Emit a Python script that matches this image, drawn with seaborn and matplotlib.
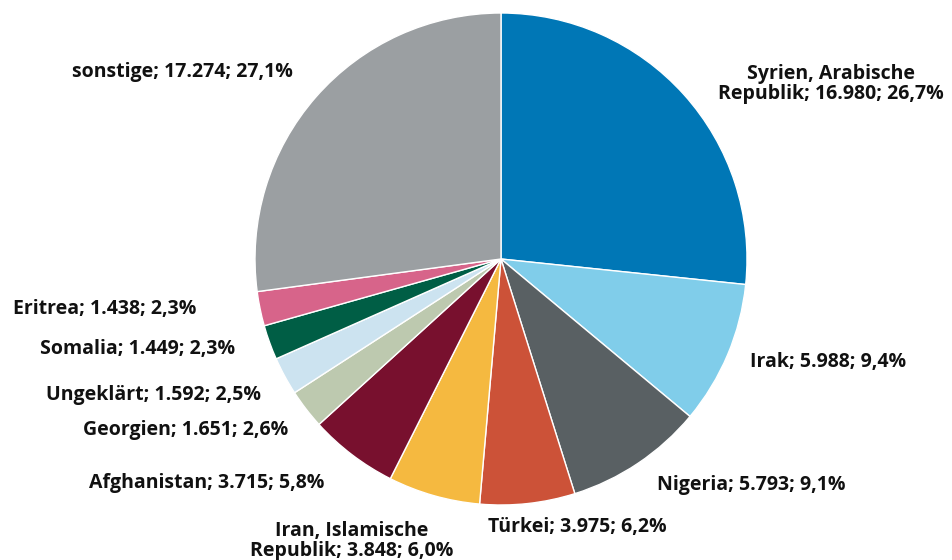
import matplotlib
matplotlib.use("Agg")
import matplotlib.pyplot as plt
import seaborn as sns

# data
names = ["Syrien, Arabische\nRepublik", "Irak", "Nigeria", "Türkei",
         "Iran, Islamische\nRepublik", "Afghanistan", "Georgien", "Ungeklärt",
         "Somalia", "Eritrea", "sonstige"]
counts = [16980, 5988, 5793, 3975, 3848, 3715, 1651, 1592, 1449, 1438, 17274]
count_text = ["16.980", "5.988", "5.793", "3.975", "3.848", "3.715",
              "1.651", "1.592", "1.449", "1.438", "17.274"]
pct_text = ["26,7", "9,4", "9,1", "6,2", "6,0", "5,8", "2,6", "2,5", "2,3", "2,3", "27,1"]

colors = ["#0077B6", "#80CDEA", "#596063", "#CC5238", "#F5B940", "#78102E",
          "#BDC9AF", "#CCE3F0", "#005E45", "#D7648A", "#9B9FA2"]

# label centres in pixels (layout only)
label_pos = [(831, 84), (828, 362), (751, 485), (577, 527), (352, 541),
             (207, 483), (186, 430), (154, 395), (138, 349), (105, 309),
             (182, 72)]

sns.set_theme(style="white")
plt.rcParams["font.family"] = ["Open Sans", "DejaVu Sans"]

W, H = 953, 560
fig = plt.figure(figsize=(W / 100, H / 100), dpi=100)
cx, cy, r = 501, 259, 246
ax = fig.add_axes([(cx - r) / W, (H - cy - r) / H, 2 * r / W, 2 * r / H])
ax.pie(counts, colors=colors, startangle=90, counterclock=False,
       wedgeprops=dict(edgecolor="white", linewidth=1.0))
ax.set_xlim(-1, 1)
ax.set_ylim(-1, 1)
ax.set_aspect("equal")
ax.axis("off")

for name, c, p, (x, y) in zip(names, count_text, pct_text, label_pos):
    fig.text(x / W, 1 - y / H, f"{name}; {c}; {p}%", ha="center", va="center",
             fontsize=14, fontweight="bold", color="#111111",
             linespacing=0.95)

fig.savefig("out.png", dpi=100, facecolor="white")
